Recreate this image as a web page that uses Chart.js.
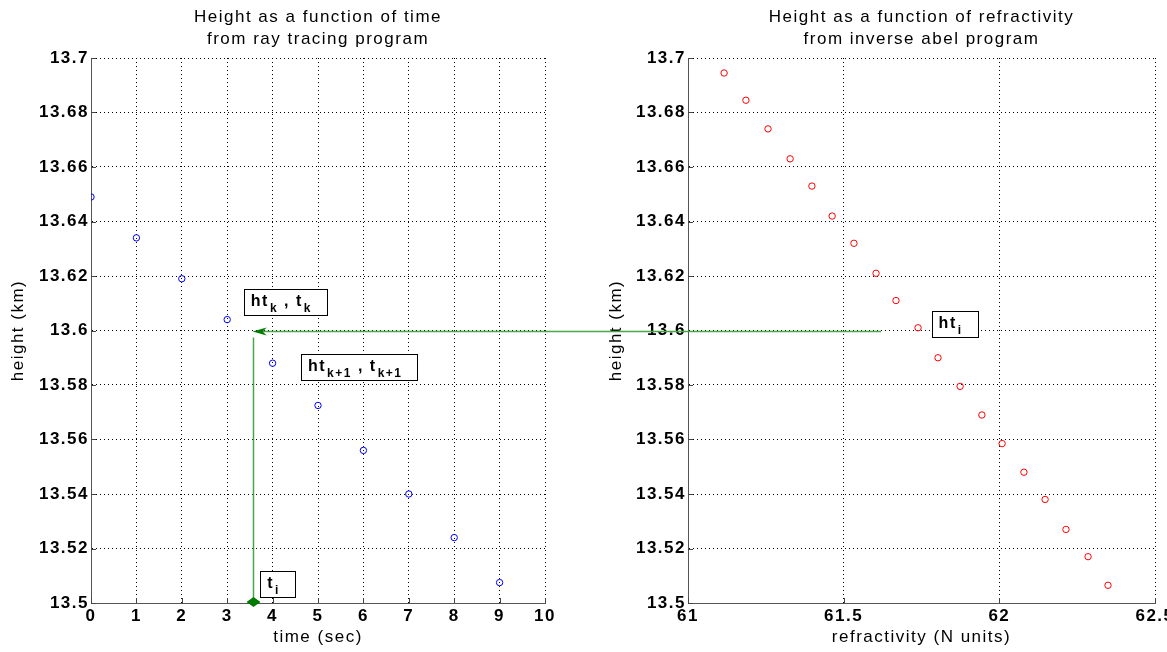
<!DOCTYPE html>
<html>
<head>
<meta charset="utf-8">
<script src="https://cdn.jsdelivr.net/npm/chart.js@4/dist/chart.umd.min.js"></script>
<style>
  body { margin: 0; background: #fff; }
  #wrap { position: relative; width: 1167px; height: 652px; }
  canvas { position: absolute; top: 0; }
  #leftChart { left: 0; }
  #rightChart { left: 583px; }
  #overlay { left: 0; pointer-events: none; }
</style>
</head>
<body>
<div id="wrap">
  <canvas id="leftChart" width="583" height="652"></canvas>
  <canvas id="rightChart" width="584" height="652"></canvas>
  <canvas id="overlay" width="1167" height="652"></canvas>
</div>
<script>
// ray tracing: height vs time
const times = [0, 1, 2, 3, 4, 5, 6, 7, 8, 9];
const heightsTime = [13.649, 13.634, 13.619, 13.604, 13.588, 13.5725, 13.556, 13.540, 13.524, 13.5075];

// inverse abel: height vs refractivity
const refractivity = [61.116, 61.186, 61.257, 61.328, 61.398, 61.463, 61.533, 61.604, 61.668, 61.739,
                      61.803, 61.874, 61.944, 62.009, 62.079, 62.147, 62.214, 62.285, 62.349];
const heightsRefr = [13.6945, 13.6845, 13.674, 13.663, 13.653, 13.642, 13.632, 13.621, 13.611, 13.601,
                     13.590, 13.5795, 13.569, 13.5585, 13.548, 13.538, 13.527, 13.517, 13.5065];

// interpolation markers
const htI = 13.6;
const tI = 3.56;
const arrowFromRefr = 61.62;
const labelsLeft = [
  { x: 3.52, y: 13.6105, parts: [['ht', 0], ['k', 1], [' , t', 0], ['k', 1]] },
  { x: 4.78, y: 13.5865, parts: [['ht', 0], ['k+1', 1], [' , t', 0], ['k+1', 1]] },
  { x: 3.88, y: 13.507, parts: [['t', 0], ['i', 1]] }
];
const labelsRight = [
  { x: 61.805, y: 13.6025, parts: [['ht', 0], ['i', 1]] }
];

const FONT = '"Liberation Sans", Arial, Helvetica, sans-serif';
const SPACING = '1.5px';

function fmt(v) {
  return String(parseFloat(v.toFixed(2)));
}

// wide MATLAB-like lettering, inward tick marks and the two-line title
const axesDeco = {
  id: 'axesDeco',
  beforeDraw(chart) {
    chart.ctx.letterSpacing = SPACING;
  },
  afterDraw(chart, args, opts) {
    const ctx = chart.ctx;
    const a = chart.chartArea;
    const xs = chart.scales.x, ys = chart.scales.y;
    ctx.save();
    ctx.strokeStyle = '#444';
    ctx.lineWidth = 1;
    ctx.beginPath();
    xs.ticks.forEach(t => {
      const px = Math.round(xs.getPixelForValue(t.value)) + 0.5;
      ctx.moveTo(px, a.bottom); ctx.lineTo(px, a.bottom - 5);
    });
    ys.ticks.forEach(t => {
      const py = Math.round(ys.getPixelForValue(t.value)) + 0.5;
      ctx.moveTo(a.left, py); ctx.lineTo(a.left + 5, py);
    });
    ctx.stroke();
    ctx.fillStyle = '#000';
    ctx.font = '17px ' + FONT;
    ctx.letterSpacing = SPACING;
    ctx.textAlign = 'center';
    ctx.textBaseline = 'middle';
    const cx = (a.left + a.right) / 2;
    opts.lines.forEach((line, i) => ctx.fillText(line, cx, 17 + i * 22));
    ctx.restore();
  }
};

function makeOptions(xCfg, yWidth, padLeft, padRight, titleLines, yTitlePad) {
  return {
    responsive: false,
    animation: false,
    layout: { padding: { top: 58, left: padLeft, right: padRight, bottom: 0 } },
    plugins: {
      legend: { display: false },
      tooltip: { enabled: false },
      axesDeco: { lines: titleLines }
    },
    scales: {
      x: Object.assign({
        type: 'linear',
        grid: { color: '#000', lineWidth: 1, drawTicks: false },
        border: { display: true, color: '#555', width: 1, dash: [1, 3] },
        afterFit: s => { s.height = 49; s.paddingLeft = 0; s.paddingRight = 0; }
      }, xCfg),
      y: {
        type: 'linear',
        min: 13.5,
        max: 13.7,
        grid: { color: '#000', lineWidth: 1, drawTicks: false },
        border: { display: true, color: '#555', width: 1, dash: [1, 3] },
        ticks: {
          stepSize: 0.02, color: '#000', padding: 2,
          font: { family: FONT, size: 17, weight: 'bold' },
          callback: v => fmt(v)
        },
        title: { display: true, text: 'height (km)', color: '#000',
                 font: { family: FONT, size: 17 }, padding: { top: yTitlePad, bottom: 0 } },
        afterFit: s => { s.width = yWidth; s.paddingTop = 0; s.paddingBottom = 0; }
      }
    }
  };
}

const leftChart = new Chart(document.getElementById('leftChart'), {
  type: 'scatter',
  data: {
    datasets: [{
      data: times.map((t, i) => ({ x: t, y: heightsTime[i] })),
      borderColor: '#0000ff',
      backgroundColor: 'rgba(0,0,0,0)',
      borderWidth: 1,
      pointRadius: 3.2
    }]
  },
  options: makeOptions({
    min: 0, max: 10,
    ticks: { stepSize: 1, color: '#000', padding: 3, font: { family: FONT, size: 17, weight: 'bold' } },
    title: { display: true, text: 'time (sec)', color: '#000',
             font: { family: FONT, size: 17 }, padding: { top: 0, bottom: 4 } }
  }, 91, 0, 38, ['Height as a function of time', 'from ray tracing program'], 8),
  plugins: [axesDeco]
});

const rightChart = new Chart(document.getElementById('rightChart'), {
  type: 'scatter',
  data: {
    datasets: [{
      data: refractivity.map((r, i) => ({ x: r, y: heightsRefr[i] })),
      borderColor: '#ff0000',
      backgroundColor: 'rgba(0,0,0,0)',
      borderWidth: 1,
      pointRadius: 3.2
    }]
  },
  options: makeOptions({
    min: 61, max: 62.5,
    ticks: { stepSize: 0.5, color: '#000', padding: 3, font: { family: FONT, size: 17, weight: 'bold' },
             callback: v => fmt(v) },
    title: { display: true, text: 'refractivity (N units)', color: '#000',
             font: { family: FONT, size: 17 }, padding: { top: 0, bottom: 4 } }
  }, 85, 20, 12, ['Height as a function of refractivity', 'from inverse abel program'], 3),
  plugins: [axesDeco]
});

// overlay: arrows and text boxes spanning both plots
function drawOverlay() {
  const ctx = document.getElementById('overlay').getContext('2d');
  const offL = 0, offR = 583;
  const lx = v => offL + leftChart.scales.x.getPixelForValue(v);
  const ly = v => leftChart.scales.y.getPixelForValue(v);
  const rx = v => offR + rightChart.scales.x.getPixelForValue(v);
  const ry = v => rightChart.scales.y.getPixelForValue(v);

  const yLine = Math.round(ly(htI)) + 0.5;
  const xTip = lx(tI);
  const xStart = rx(arrowFromRefr);

  ctx.strokeStyle = '#4aa64a';
  ctx.lineWidth = 1.5;
  ctx.beginPath();
  ctx.moveTo(xStart, yLine);
  ctx.lineTo(xTip + 8, yLine);
  ctx.stroke();
  // left arrow head
  ctx.fillStyle = '#007a00';
  ctx.beginPath();
  ctx.moveTo(xTip, yLine);
  ctx.lineTo(xTip + 14, yLine - 4);
  ctx.lineTo(xTip + 10, yLine);
  ctx.lineTo(xTip + 14, yLine + 4);
  ctx.closePath();
  ctx.fill();

  // vertical line down to time axis
  const xv = Math.round(xTip) + 0.5;
  const yBottom = ly(13.5);
  ctx.beginPath();
  ctx.moveTo(xv, yLine + 6);
  ctx.lineTo(xv, yBottom - 4);
  ctx.stroke();
  ctx.beginPath();
  ctx.moveTo(xv, yBottom + 4);
  ctx.lineTo(xv - 7, yBottom - 1);
  ctx.lineTo(xv, yBottom - 6);
  ctx.lineTo(xv + 7, yBottom - 1);
  ctx.closePath();
  ctx.fill();

  ctx.letterSpacing = SPACING;
  const drawLabel = (lab, px, py) => {
    const big = 'bold 16px ' + FONT, small = 'bold 12px ' + FONT;
    let w = 0;
    lab.parts.forEach(([txt, sub]) => {
      ctx.font = sub ? small : big;
      w += ctx.measureText(txt).width + (sub ? 1 : 0);
    });
    const bx = Math.round(px - 7) + 0.5, by = Math.round(py - 13) + 0.5;
    const bw = Math.round(w + 22);
    ctx.fillStyle = '#fff';
    ctx.fillRect(bx, by, bw, 26);
    ctx.strokeStyle = '#000';
    ctx.lineWidth = 1;
    ctx.strokeRect(bx, by, bw, 26);
    ctx.fillStyle = '#000';
    ctx.textBaseline = 'alphabetic';
    ctx.textAlign = 'left';
    let x = px;
    lab.parts.forEach(([txt, sub]) => {
      ctx.font = sub ? small : big;
      if (sub) x += 1;
      ctx.fillText(txt, x, sub ? py + 10 : py + 4);
      x += ctx.measureText(txt).width;
    });
  };
  labelsLeft.forEach(l => drawLabel(l, lx(l.x), ly(l.y)));
  labelsRight.forEach(l => drawLabel(l, rx(l.x), ry(l.y)));
}
drawOverlay();
</script>
</body>
</html>
